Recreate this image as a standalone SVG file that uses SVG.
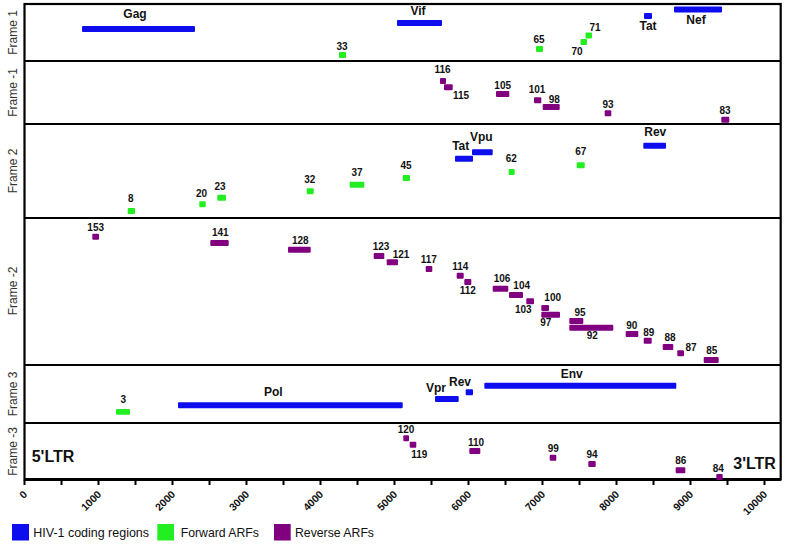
<svg xmlns="http://www.w3.org/2000/svg" width="787" height="544" viewBox="0 0 787 544">
<style>
.b{fill:#0d0dee}
.g{fill:#22ee22}
.p{fill:#800080}
.n{font-family:"Liberation Sans",Arial,sans-serif;font-weight:bold;font-size:10px;fill:#111;text-anchor:middle}
.gl{font-family:"Liberation Sans",Arial,sans-serif;font-weight:bold;font-size:12px;fill:#111;text-anchor:middle}
.fr{font-family:"Liberation Sans",Arial,sans-serif;font-size:12px;fill:#333;text-anchor:middle}
.tk{font-family:"Liberation Sans",Arial,sans-serif;font-weight:bold;font-size:10.5px;fill:#111;text-anchor:end}
.lg{font-family:"Liberation Sans",Arial,sans-serif;font-size:13px;fill:#111}
.ltr{font-family:"Liberation Sans",Arial,sans-serif;font-weight:bold;font-size:16px;fill:#111}
.ln{stroke:#000;stroke-width:2.2;fill:none}
</style>
<rect width="787" height="544" fill="#fff"/>
<g id="frame">
<rect class="ln" x="24.5" y="4" width="756.2" height="475.5"/>
<line class="ln" x1="24.5" y1="61" x2="780.7" y2="61"/>
<line class="ln" x1="24.5" y1="124" x2="780.7" y2="124"/>
<line class="ln" x1="24.5" y1="218" x2="780.7" y2="218"/>
<line class="ln" x1="24.5" y1="365" x2="780.7" y2="365"/>
<line class="ln" x1="24.5" y1="423" x2="780.7" y2="423"/>
<line stroke="#000" stroke-width="2.8" x1="24.5" y1="479.5" x2="780.7" y2="479.5"/>
</g>
<g id="frame-labels">
<text class="fr" transform="translate(16.5,32.5) rotate(-90)">Frame 1</text>
<text class="fr" transform="translate(16.5,92.5) rotate(-90)">Frame -1</text>
<text class="fr" transform="translate(16.5,171) rotate(-90)">Frame 2</text>
<text class="fr" transform="translate(16.5,291) rotate(-90)">Frame -2</text>
<text class="fr" transform="translate(16.5,394) rotate(-90)">Frame 3</text>
<text class="fr" transform="translate(16.5,451.5) rotate(-90)">Frame -3</text>
</g>
<g id="axis">
<g stroke="#000" stroke-width="2">
<line x1="24.5" y1="480" x2="24.5" y2="485"/><line x1="61.5" y1="480" x2="61.5" y2="485"/>
<line x1="98.5" y1="480" x2="98.5" y2="485"/><line x1="135.5" y1="480" x2="135.5" y2="485"/>
<line x1="172.5" y1="480" x2="172.5" y2="485"/><line x1="209.5" y1="480" x2="209.5" y2="485"/>
<line x1="246.5" y1="480" x2="246.5" y2="485"/><line x1="283.5" y1="480" x2="283.5" y2="485"/>
<line x1="320.5" y1="480" x2="320.5" y2="485"/><line x1="357.5" y1="480" x2="357.5" y2="485"/>
<line x1="394.5" y1="480" x2="394.5" y2="485"/><line x1="431.5" y1="480" x2="431.5" y2="485"/>
<line x1="468.5" y1="480" x2="468.5" y2="485"/><line x1="505.5" y1="480" x2="505.5" y2="485"/>
<line x1="542.5" y1="480" x2="542.5" y2="485"/><line x1="579.5" y1="480" x2="579.5" y2="485"/>
<line x1="616.5" y1="480" x2="616.5" y2="485"/><line x1="653.5" y1="480" x2="653.5" y2="485"/>
<line x1="690.5" y1="480" x2="690.5" y2="485"/><line x1="727.5" y1="480" x2="727.5" y2="485"/>
<line x1="764.5" y1="480" x2="764.5" y2="485"/>
</g>
<text class="tk" transform="translate(28,495) rotate(-45)">0</text>
<text class="tk" transform="translate(102,495) rotate(-45)">1000</text>
<text class="tk" transform="translate(176,495) rotate(-45)">2000</text>
<text class="tk" transform="translate(250,495) rotate(-45)">3000</text>
<text class="tk" transform="translate(324,495) rotate(-45)">4000</text>
<text class="tk" transform="translate(398,495) rotate(-45)">5000</text>
<text class="tk" transform="translate(472,495) rotate(-45)">6000</text>
<text class="tk" transform="translate(546,495) rotate(-45)">7000</text>
<text class="tk" transform="translate(620,495) rotate(-45)">8000</text>
<text class="tk" transform="translate(694,495) rotate(-45)">9000</text>
<text class="tk" transform="translate(768,495) rotate(-45)">10000</text>
</g>
<g id="frame1">
<g id="gag"><rect class="b" x="82" y="26" width="113" height="6" rx="1"/><text class="gl" x="135" y="18">Gag</text></g>
<g id="vif"><rect class="b" x="397" y="20" width="45" height="6" rx="1"/><text class="gl" x="418" y="15">Vif</text></g>
<g id="tat1"><rect class="b" x="644" y="13" width="8" height="6" rx="1"/><text class="gl" x="648" y="30">Tat</text></g>
<g id="nef"><rect class="b" x="674" y="6.5" width="48" height="6" rx="1"/><text class="gl" x="696" y="23.5">Nef</text></g>
<g id="arf33"><rect class="g" x="339" y="52" width="7" height="6" rx="1"/><text class="n" x="342" y="49.5">33</text></g>
<g id="arf65"><rect class="g" x="536" y="46" width="7" height="6" rx="1"/><text class="n" x="539" y="43">65</text></g>
<g id="arf70"><rect class="g" x="580.5" y="39" width="6.5" height="6" rx="1"/><text class="n" x="577" y="54.5">70</text></g>
<g id="arf71"><rect class="g" x="585.5" y="32.5" width="6.5" height="6" rx="1"/><text class="n" x="595" y="31">71</text></g>
</g>
<g id="frame-1">
<g id="arf116"><rect class="p" x="440" y="78" width="6" height="6" rx="1"/><text class="n" x="442.5" y="72.5">116</text></g>
<g id="arf115"><rect class="p" x="444" y="84.3" width="8.7" height="6" rx="1"/><text class="n" x="461" y="98.5">115</text></g>
<g id="arf105"><rect class="p" x="496" y="91" width="13.3" height="6" rx="1"/><text class="n" x="502.7" y="88.5">105</text></g>
<g id="arf101"><rect class="p" x="534" y="97.3" width="7.3" height="6" rx="1"/><text class="n" x="537" y="93">101</text></g>
<g id="arf98"><rect class="p" x="542.7" y="104" width="17" height="6" rx="1"/><text class="n" x="554.3" y="102.5">98</text></g>
<g id="arf93"><rect class="p" x="604.7" y="110.3" width="6.6" height="6" rx="1"/><text class="n" x="608" y="107.5">93</text></g>
<g id="arf83"><rect class="p" x="721.3" y="116.7" width="8" height="6" rx="1"/><text class="n" x="725" y="113.7">83</text></g>
</g>
<g id="frame2">
<g id="arf8"><rect class="g" x="127.7" y="208" width="7.3" height="6" rx="1"/><text class="n" x="130.7" y="202">8</text></g>
<g id="arf20"><rect class="g" x="199.3" y="201.3" width="6.4" height="6" rx="1"/><text class="n" x="201.5" y="197">20</text></g>
<g id="arf23"><rect class="g" x="217.3" y="194.7" width="8.7" height="6" rx="1"/><text class="n" x="220" y="189.5">23</text></g>
<g id="arf32"><rect class="g" x="306.7" y="188.3" width="7" height="6" rx="1"/><text class="n" x="309.7" y="182.7">32</text></g>
<g id="arf37"><rect class="g" x="349.7" y="181.7" width="14.6" height="6" rx="1"/><text class="n" x="357" y="176">37</text></g>
<g id="arf45"><rect class="g" x="402.7" y="175" width="7.3" height="6" rx="1"/><text class="n" x="406" y="168.7">45</text></g>
<g id="tat2"><rect class="b" x="455" y="155.7" width="18" height="6" rx="1"/><text class="gl" x="460.7" y="150">Tat</text></g>
<g id="vpu"><rect class="b" x="472" y="149.3" width="20.7" height="6" rx="1"/><text class="gl" x="481.3" y="141">Vpu</text></g>
<g id="arf62"><rect class="g" x="508.7" y="169" width="6" height="6" rx="1"/><text class="n" x="511.3" y="161.7">62</text></g>
<g id="arf67"><rect class="g" x="576.7" y="162.3" width="8" height="6" rx="1"/><text class="n" x="580.7" y="155">67</text></g>
<g id="rev2"><rect class="b" x="643.3" y="142.7" width="22.7" height="6" rx="1"/><text class="gl" x="655.3" y="136">Rev</text></g>
</g>
<g id="frame-2">
<g id="arf153"><rect class="p" x="92.3" y="233.7" width="6.7" height="6" rx="1"/><text class="n" x="95.7" y="230.7">153</text></g>
<g id="arf141"><rect class="p" x="210.3" y="240" width="18.4" height="6" rx="1"/><text class="n" x="220.3" y="236.3">141</text></g>
<g id="arf128"><rect class="p" x="288" y="246.7" width="22.7" height="6" rx="1"/><text class="n" x="300.3" y="243.7">128</text></g>
<g id="arf123"><rect class="p" x="373.7" y="253" width="10.6" height="6" rx="1"/><text class="n" x="381" y="250.3">123</text></g>
<g id="arf121"><rect class="p" x="386.7" y="259.3" width="11.3" height="6" rx="1"/><text class="n" x="401" y="257.7">121</text></g>
<g id="arf117"><rect class="p" x="425.7" y="266" width="6.6" height="6" rx="1"/><text class="n" x="428.7" y="263.3">117</text></g>
<g id="arf114"><rect class="p" x="456.7" y="272.7" width="7" height="6" rx="1"/><text class="n" x="460.3" y="270.3">114</text></g>
<g id="arf112"><rect class="p" x="464.3" y="279" width="7" height="6" rx="1"/><text class="n" x="467.7" y="293.7">112</text></g>
<g id="arf106"><rect class="p" x="492.7" y="285.7" width="15.6" height="6" rx="1"/><text class="n" x="502" y="282.3">106</text></g>
<g id="arf104"><rect class="p" x="509" y="292" width="14" height="6" rx="1"/><text class="n" x="521.7" y="289">104</text></g>
<g id="arf103"><rect class="p" x="526.3" y="298.3" width="7.7" height="6" rx="1"/><text class="n" x="523.3" y="313">103</text></g>
<g id="arf100"><rect class="p" x="541.3" y="305" width="7.7" height="6" rx="1"/><text class="n" x="552.7" y="301.3">100</text></g>
<g id="arf97"><rect class="p" x="541.3" y="311.7" width="18.7" height="6" rx="1"/><text class="n" x="545.7" y="326">97</text></g>
<g id="arf95"><rect class="p" x="569.3" y="318" width="14" height="6" rx="1"/><text class="n" x="580" y="315.7">95</text></g>
<g id="arf92"><rect class="p" x="569.3" y="324.7" width="44" height="6" rx="1"/><text class="n" x="592.3" y="339.3">92</text></g>
<g id="arf90"><rect class="p" x="625.7" y="331" width="12.6" height="6" rx="1"/><text class="n" x="631.7" y="328.7">90</text></g>
<g id="arf89"><rect class="p" x="643.7" y="337.7" width="8" height="6" rx="1"/><text class="n" x="648.7" y="335.7">89</text></g>
<g id="arf88"><rect class="p" x="662.7" y="344" width="10.6" height="6" rx="1"/><text class="n" x="670" y="340.7">88</text></g>
<g id="arf87"><rect class="p" x="677.3" y="350.3" width="6.7" height="6" rx="1"/><text class="n" x="691" y="350.7">87</text></g>
<g id="arf85"><rect class="p" x="703.7" y="357" width="15" height="6" rx="1"/><text class="n" x="711.7" y="354.3">85</text></g>
</g>
<g id="frame3">
<g id="arf3"><rect class="g" x="116" y="409" width="14" height="5.7" rx="1"/><text class="n" x="123.3" y="403.3">3</text></g>
<g id="pol"><rect class="b" x="178" y="402.3" width="224.7" height="6" rx="1"/><text class="gl" x="273.3" y="396">Pol</text></g>
<g id="vpr"><rect class="b" x="435" y="396" width="23.7" height="6" rx="1"/><text class="gl" x="436" y="391.7">Vpr</text></g>
<g id="rev3"><rect class="b" x="465.7" y="389.3" width="7.3" height="6" rx="1"/><text class="gl" x="460" y="386">Rev</text></g>
<g id="env"><rect class="b" x="484.3" y="382.7" width="192" height="6" rx="1"/><text class="gl" x="571.7" y="378">Env</text></g>
</g>
<g id="frame-3">
<g id="arf120"><rect class="p" x="403.3" y="435.3" width="5.7" height="6" rx="1"/><text class="n" x="406" y="432.7">120</text></g>
<g id="arf119"><rect class="p" x="409.7" y="441.7" width="6.6" height="6" rx="1"/><text class="n" x="419.3" y="457.7">119</text></g>
<g id="arf110"><rect class="p" x="469.3" y="448" width="11" height="6" rx="1"/><text class="n" x="476" y="446">110</text></g>
<g id="arf99"><rect class="p" x="549.7" y="454.7" width="6.6" height="6" rx="1"/><text class="n" x="553.3" y="452.3">99</text></g>
<g id="arf94"><rect class="p" x="588.3" y="461" width="7.4" height="6" rx="1"/><text class="n" x="592" y="457.7">94</text></g>
<g id="arf86"><rect class="p" x="675.7" y="467.3" width="9.6" height="6" rx="1"/><text class="n" x="680.7" y="464.3">86</text></g>
<g id="arf84"><rect class="p" x="716.3" y="474" width="6.4" height="6" rx="1"/><text class="n" x="718.3" y="471.7">84</text></g>
<text class="ltr" x="31.7" y="462.3">5'LTR</text>
<text class="ltr" x="733.3" y="469">3'LTR</text>
</g>
<g id="legend">
<rect class="b" x="12" y="524" width="17" height="16.5"/>
<text class="lg" x="33.3" y="537.3" textLength="115.7" lengthAdjust="spacingAndGlyphs">HIV-1 coding regions</text>
<rect class="g" x="157.3" y="524" width="16.7" height="16.5"/>
<text class="lg" x="180.7" y="537.3" textLength="78.3" lengthAdjust="spacingAndGlyphs">Forward ARFs</text>
<rect class="p" x="274" y="524" width="16.7" height="16.5"/>
<text class="lg" x="295" y="537.3" textLength="79" lengthAdjust="spacingAndGlyphs">Reverse ARFs</text>
</g>
<g id="connectors"/>
</svg>
